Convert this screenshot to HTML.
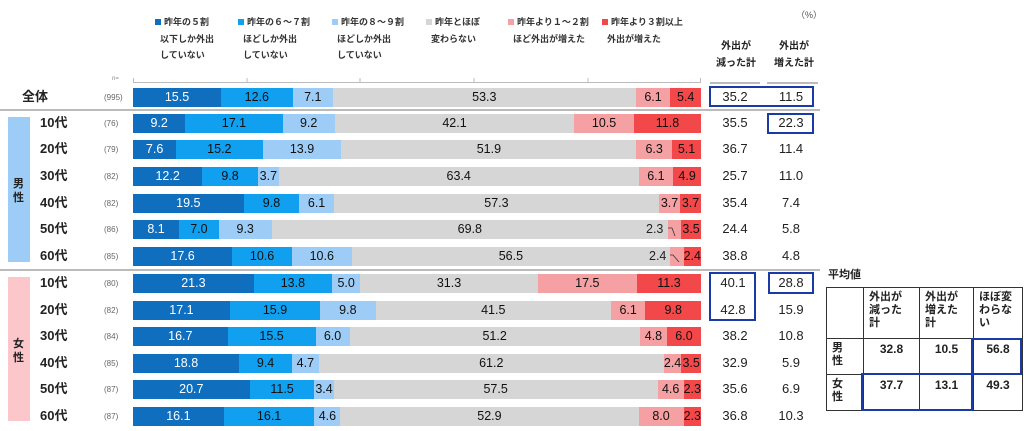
<!DOCTYPE html>
<html><head><meta charset="utf-8"><style>
body{margin:0;width:1024px;height:431px;background:#fff;position:relative;overflow:hidden;font-family:"Liberation Sans","Noto Sans CJK JP",sans-serif;color:#222}
.a{position:absolute}
.bar{position:absolute;left:133px;width:568px;height:19px;display:flex;font-size:12.5px;line-height:19px}
.bar div{text-align:center;white-space:nowrap;overflow:visible}
.c1{background:#0f6fbe;color:#fff}.c2{background:#119ff0;color:#111}.c3{background:#9dcdf6;color:#111}.c4{background:#d6d6d6;color:#111}.c5{background:#f5a0a2;color:#111}.c6{background:#f2484a;color:#111}
.lab{position:absolute;left:40px;font-size:13px;font-weight:bold;width:40px;line-height:19px}
.n{position:absolute;left:104px;font-size:8px;color:#666;line-height:19px}
.v{position:absolute;font-size:13px;width:50px;text-align:center;line-height:19px}
.lg{position:absolute;top:14px;font-size:9px;font-weight:bold;line-height:16.5px;color:#333}
.lg i{display:inline-block;width:6px;height:6px;margin-right:3px}
.box{position:absolute;border:2px solid #1a3aa8;box-sizing:border-box}
table{border-collapse:collapse;font-size:11px;font-weight:bold}
td{border:1px solid #333;vertical-align:top;padding:3px 5px}
td.num{text-align:center;font-size:12px}
</style></head><body>
<div class="lg" style="left:155px"><i style="background:#0f6fbe"></i>昨年の５割<br>&nbsp;&nbsp;以下しか外出<br>&nbsp;&nbsp;していない</div>
<div class="lg" style="left:238px"><i style="background:#119ff0"></i>昨年の６～７割<br>&nbsp;&nbsp;ほどしか外出<br>&nbsp;&nbsp;していない</div>
<div class="lg" style="left:332px"><i style="background:#9dcdf6"></i>昨年の８～９割<br>&nbsp;&nbsp;ほどしか外出<br>&nbsp;&nbsp;していない</div>
<div class="lg" style="left:426px"><i style="background:#d6d6d6"></i>昨年とほぼ<br>&nbsp;&nbsp;変わらない</div>
<div class="lg" style="left:508px"><i style="background:#f5a0a2"></i>昨年より１～２割<br>&nbsp;&nbsp;ほど外出が増えた</div>
<div class="lg" style="left:602px"><i style="background:#f2484a"></i>昨年より３割以上<br>&nbsp;&nbsp;外出が増えた</div>
<div class="a" style="left:796px;top:8px;font-size:9px;color:#555">（%）</div>
<div class="a" style="left:712px;top:38px;font-size:10px;font-weight:bold;line-height:17px;text-align:center;width:48px">外出が<br>減った計</div>
<div class="a" style="left:770px;top:38px;font-size:10px;font-weight:bold;line-height:17px;text-align:center;width:48px">外出が<br>増えた計</div>
<div class="a" style="left:112px;top:76px;font-size:6px;color:#888">n=</div>
<div class="a" style="left:8px;top:117px;width:22px;height:145px;background:#9dcdf6"></div>
<div class="a" style="left:13px;top:177px;font-size:11px;font-weight:bold;line-height:14px">男<br>性</div>
<div class="a" style="left:8px;top:277px;width:22px;height:144px;background:#fcc7cb"></div>
<div class="a" style="left:13px;top:337px;font-size:11px;font-weight:bold;line-height:14px">女<br>性</div>

<div class="lab" style="left:22px;top:87px">全体</div><div class="n" style="top:88px">(995)</div>
<div class="bar" style="top:88px"><div class="c1" style="flex:15.5">15.5</div><div class="c2" style="flex:12.6">12.6</div><div class="c3" style="flex:7.1">7.1</div><div class="c4" style="flex:53.3">53.3</div><div class="c5" style="flex:6.1">6.1</div><div class="c6" style="flex:5.4">5.4</div></div>
<div class="v" style="left:710px;top:87px">35.2</div><div class="v" style="left:766px;top:87px">11.5</div>

<div class="lab" style="top:113px">10代</div><div class="n" style="top:114px">(76)</div>
<div class="bar" style="top:114px"><div class="c1" style="flex:9.2">9.2</div><div class="c2" style="flex:17.1">17.1</div><div class="c3" style="flex:9.2">9.2</div><div class="c4" style="flex:42.1">42.1</div><div class="c5" style="flex:10.5">10.5</div><div class="c6" style="flex:11.8">11.8</div></div>
<div class="v" style="left:710px;top:113px">35.5</div><div class="v" style="left:766px;top:113px">22.3</div>

<div class="lab" style="top:139px">20代</div><div class="n" style="top:140px">(79)</div>
<div class="bar" style="top:140px"><div class="c1" style="flex:7.6">7.6</div><div class="c2" style="flex:15.2">15.2</div><div class="c3" style="flex:13.9">13.9</div><div class="c4" style="flex:51.9">51.9</div><div class="c5" style="flex:6.3">6.3</div><div class="c6" style="flex:5.1">5.1</div></div>
<div class="v" style="left:710px;top:139px">36.7</div><div class="v" style="left:766px;top:139px">11.4</div>

<div class="lab" style="top:166px">30代</div><div class="n" style="top:167px">(82)</div>
<div class="bar" style="top:167px"><div class="c1" style="flex:12.2">12.2</div><div class="c2" style="flex:9.8">9.8</div><div class="c3" style="flex:3.7">3.7</div><div class="c4" style="flex:63.4">63.4</div><div class="c5" style="flex:6.1">6.1</div><div class="c6" style="flex:4.9">4.9</div></div>
<div class="v" style="left:710px;top:166px">25.7</div><div class="v" style="left:766px;top:166px">11.0</div>

<div class="lab" style="top:193px">40代</div><div class="n" style="top:194px">(82)</div>
<div class="bar" style="top:194px"><div class="c1" style="flex:19.5">19.5</div><div class="c2" style="flex:9.8">9.8</div><div class="c3" style="flex:6.1">6.1</div><div class="c4" style="flex:57.3">57.3</div><div class="c5" style="flex:3.7">3.7</div><div class="c6" style="flex:3.7">3.7</div></div>
<div class="v" style="left:710px;top:193px">35.4</div><div class="v" style="left:766px;top:193px">7.4</div>

<div class="lab" style="top:219px">50代</div><div class="n" style="top:220px">(86)</div>
<div class="bar" style="top:220px"><div class="c1" style="flex:8.1">8.1</div><div class="c2" style="flex:7.0">7.0</div><div class="c3" style="flex:9.3">9.3</div><div class="c4" style="flex:69.8">69.8</div><div class="c5" style="flex:2.3"></div><div class="c6" style="flex:3.5">3.5</div></div>
<div class="a" style="left:646px;top:220px;font-size:12.5px;line-height:19px">2.3</div>
<div class="v" style="left:710px;top:219px">24.4</div><div class="v" style="left:766px;top:219px">5.8</div>

<div class="lab" style="top:246px">60代</div><div class="n" style="top:247px">(85)</div>
<div class="bar" style="top:247px"><div class="c1" style="flex:17.6">17.6</div><div class="c2" style="flex:10.6">10.6</div><div class="c3" style="flex:10.6">10.6</div><div class="c4" style="flex:56.5">56.5</div><div class="c5" style="flex:2.4"></div><div class="c6" style="flex:2.4">2.4</div></div>
<div class="a" style="left:649px;top:247px;font-size:12.5px;line-height:19px">2.4</div>
<div class="v" style="left:710px;top:246px">38.8</div><div class="v" style="left:766px;top:246px">4.8</div>

<div class="lab" style="top:273px">10代</div><div class="n" style="top:274px">(80)</div>
<div class="bar" style="top:274px"><div class="c1" style="flex:21.3">21.3</div><div class="c2" style="flex:13.8">13.8</div><div class="c3" style="flex:5.0">5.0</div><div class="c4" style="flex:31.3">31.3</div><div class="c5" style="flex:17.5">17.5</div><div class="c6" style="flex:11.3">11.3</div></div>
<div class="v" style="left:708px;top:273px">40.1</div><div class="v" style="left:766px;top:273px">28.8</div>

<div class="lab" style="top:300px">20代</div><div class="n" style="top:301px">(82)</div>
<div class="bar" style="top:301px"><div class="c1" style="flex:17.1">17.1</div><div class="c2" style="flex:15.9">15.9</div><div class="c3" style="flex:9.8">9.8</div><div class="c4" style="flex:41.5">41.5</div><div class="c5" style="flex:6.1">6.1</div><div class="c6" style="flex:9.8">9.8</div></div>
<div class="v" style="left:708px;top:300px">42.8</div><div class="v" style="left:766px;top:300px">15.9</div>

<div class="lab" style="top:326px">30代</div><div class="n" style="top:327px">(84)</div>
<div class="bar" style="top:327px"><div class="c1" style="flex:16.7">16.7</div><div class="c2" style="flex:15.5">15.5</div><div class="c3" style="flex:6.0">6.0</div><div class="c4" style="flex:51.2">51.2</div><div class="c5" style="flex:4.8">4.8</div><div class="c6" style="flex:6.0">6.0</div></div>
<div class="v" style="left:710px;top:326px">38.2</div><div class="v" style="left:766px;top:326px">10.8</div>

<div class="lab" style="top:353px">40代</div><div class="n" style="top:354px">(85)</div>
<div class="bar" style="top:354px"><div class="c1" style="flex:18.8">18.8</div><div class="c2" style="flex:9.4">9.4</div><div class="c3" style="flex:4.7">4.7</div><div class="c4" style="flex:61.2">61.2</div><div class="c5" style="flex:2.4">2.4</div><div class="c6" style="flex:3.5">3.5</div></div>
<div class="v" style="left:710px;top:353px">32.9</div><div class="v" style="left:766px;top:353px">5.9</div>

<div class="lab" style="top:379px">50代</div><div class="n" style="top:380px">(87)</div>
<div class="bar" style="top:380px"><div class="c1" style="flex:20.7">20.7</div><div class="c2" style="flex:11.5">11.5</div><div class="c3" style="flex:3.4">3.4</div><div class="c4" style="flex:57.5">57.5</div><div class="c5" style="flex:4.6">4.6</div><div class="c6" style="flex:2.3">2.3</div></div>
<div class="v" style="left:710px;top:379px">35.6</div><div class="v" style="left:766px;top:379px">6.9</div>

<div class="lab" style="top:406px">60代</div><div class="n" style="top:407px">(87)</div>
<div class="bar" style="top:407px"><div class="c1" style="flex:16.1">16.1</div><div class="c2" style="flex:16.1">16.1</div><div class="c3" style="flex:4.6">4.6</div><div class="c4" style="flex:52.9">52.9</div><div class="c5" style="flex:8.0">8.0</div><div class="c6" style="flex:2.3">2.3</div></div>
<div class="v" style="left:710px;top:406px">36.8</div><div class="v" style="left:766px;top:406px">10.3</div>

<svg class="a" style="left:0;top:0" width="1024" height="431">
<g stroke="#bbb" stroke-width="1"><line x1="133" y1="82.5" x2="701" y2="82.5"/>
<line x1="133.5" y1="78" x2="133.5" y2="82"/><line x1="247" y1="78" x2="247" y2="82"/><line x1="360" y1="78" x2="360" y2="82"/><line x1="474" y1="78" x2="474" y2="82"/><line x1="588" y1="78" x2="588" y2="82"/><line x1="700.5" y1="78" x2="700.5" y2="82"/></g>
<g stroke="#bbb" stroke-width="2"><line x1="710" y1="83" x2="760" y2="83"/><line x1="767" y1="83" x2="818" y2="83"/>
<line x1="0" y1="110" x2="820" y2="110"/><line x1="0" y1="270" x2="820" y2="270"/></g>
<g stroke="#333" stroke-width="0.8" fill="none"><path d="M668 228 L672 228 L675 236"/><path d="M670 255 L673 255 L679 262"/></g>
</svg>

<div class="box" style="left:709px;top:86px;width:105px;height:21px"></div>
<div class="box" style="left:767px;top:113px;width:47px;height:21px"></div>
<div class="box" style="left:709px;top:272px;width:47px;height:49px"></div>
<div class="box" style="left:768px;top:272px;width:46px;height:22px"></div>

<div class="a" style="left:828px;top:266px;font-size:11px;font-weight:bold">平均値</div>
<table class="a" style="left:826px;top:287px">
<tr style="height:51px"><td style="width:26px"></td><td style="width:45px;line-height:13px">外出が<br>減った<br>計</td><td style="width:43px;line-height:13px">外出が<br>増えた<br>計</td><td style="width:38px;line-height:13px">ほぼ変<br>わらな<br>い</td></tr>
<tr style="height:36px"><td style="line-height:13px">男<br>性</td><td class="num">32.8</td><td class="num">10.5</td><td class="num">56.8</td></tr>
<tr style="height:36px"><td style="line-height:13px">女<br>性</td><td class="num">37.7</td><td class="num">13.1</td><td class="num">49.3</td></tr>
</table>
<div class="box" style="left:971px;top:338px;width:51px;height:37px"></div>
<div class="box" style="left:861px;top:373px;width:112px;height:38px"></div>
</body></html>
